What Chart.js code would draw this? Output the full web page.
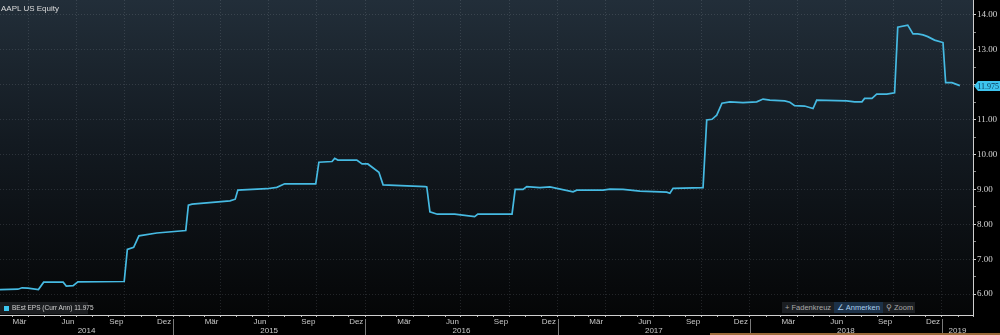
<!DOCTYPE html>
<html>
<head>
<meta charset="utf-8">
<script src="https://cdn.jsdelivr.net/npm/chart.js@4.4.0/dist/chart.umd.min.js"></script>
<style>
    html, body { margin: 0; padding: 0; background: #000; }
    #wrap { position: relative; width: 1000px; height: 335px; overflow: hidden; font-family: 'Liberation Sans', sans-serif; }
    #eps { position: absolute; left: 0; top: 0; }
    .title { position: absolute; left: 1px; top: 4px; font-size: 8px; color: #dcdcdc; }
    .legend { position: absolute; left: 0; top: 302px; width: 88px; height: 12px; background: #1b1d20; font-size: 6.5px; color: #d0d0d0; line-height: 12px; white-space: nowrap; }
    .legend .sw { display: inline-block; width: 5px; height: 5px; background: #3cc6f0; margin: 0 3px 0 4px; vertical-align: -0.5px; }
    .tools { position: absolute; left: 782px; top: 302px; width: 133px; height: 11px; background: #1b1e22; font-size: 7.5px; color: #a8a8a8; line-height: 11px; white-space: nowrap; }
    .tools span { display: inline-block; padding: 0 3px; }
    .tools .on { background: #1c3148; color: #a9cdee; }
    .strip { position: absolute; left: 710px; top: 333px; width: 290px; height: 2px; background: #9a6a3a; }
</style>
</head>
<body>
<div id="wrap">
    <canvas id="eps" width="1000" height="335"></canvas>
    <div class="title">AAPL US Equity</div>
    <div class="legend"><span class="sw"></span>BEst EPS (Curr Ann) 11.975</div>
    <div class="tools"><span>+ Fadenkreuz</span><span class="on">∠ Anmerken</span><span>⚲ Zoom</span></div>
    <div class="strip"></div>
</div>
<script>
const epsDates = [
    '2014-02-06', '2014-03-12', '2014-03-20', '2014-03-31', '2014-04-20', '2014-04-30', '2014-06-06', '2014-06-12',
    '2014-06-25', '2014-07-04', '2014-09-30', '2014-10-06', '2014-10-18', '2014-10-28', '2014-12-01', '2015-01-25',
    '2015-01-30', '2015-02-06', '2015-04-19', '2015-04-29', '2015-05-04', '2015-06-28', '2015-07-17', '2015-08-01',
    '2015-09-29', '2015-10-05', '2015-10-30', '2015-11-04', '2015-11-10', '2015-12-16', '2015-12-26', '2016-01-06',
    '2016-01-27', '2016-02-04', '2016-04-24', '2016-04-27', '2016-05-03', '2016-05-17', '2016-06-19', '2016-07-27',
    '2016-08-02', '2016-10-06', '2016-10-12', '2016-10-27', '2016-11-03', '2016-11-28', '2016-12-17', '2017-01-30',
    '2017-02-06', '2017-03-28', '2017-04-10', '2017-05-05', '2017-06-06', '2017-07-27', '2017-08-02', '2017-08-08',
    '2017-10-04', '2017-10-11', '2017-10-21', '2017-10-30', '2017-11-09', '2017-11-24', '2017-12-19', '2018-01-14',
    '2018-01-26', '2018-02-08', '2018-03-08', '2018-03-18', '2018-03-27', '2018-04-15', '2018-05-01', '2018-05-08',
    '2018-07-04', '2018-07-19', '2018-08-02', '2018-08-07', '2018-08-21', '2018-08-30', '2018-09-18', '2018-10-03',
    '2018-10-09', '2018-10-28', '2018-11-07', '2018-11-16', '2018-11-26', '2018-12-05', '2018-12-18', '2019-01-03',
    '2019-01-08', '2019-01-20', '2019-02-04'
];
const epsValues = [
    6.13, 6.14, 6.18, 6.17, 6.13, 6.34, 6.34, 6.23,
    6.24, 6.35, 6.36, 7.28, 7.34, 7.67, 7.75, 7.82,
    8.55, 8.58, 8.67, 8.72, 8.98, 9.02, 9.06, 9.16,
    9.16, 9.78, 9.80, 9.89, 9.84, 9.84, 9.73, 9.73,
    9.49, 9.13, 9.08, 9.07, 8.36, 8.29, 8.29, 8.22,
    8.29, 8.29, 9.00, 9.00, 9.08, 9.05, 9.07, 8.93,
    8.98, 8.98, 9.01, 9.00, 8.95, 8.92, 8.89, 9.03,
    9.05, 10.99, 11.01, 11.13, 11.47, 11.51, 11.49, 11.51,
    11.59, 11.56, 11.54, 11.50, 11.40, 11.39, 11.32, 11.56,
    11.54, 11.51, 11.51, 11.61, 11.61, 11.73, 11.73, 11.77,
    13.65, 13.71, 13.46, 13.46, 13.43, 13.38, 13.28, 13.21,
    12.06, 12.06, 11.975
];
const lastValue = 11.975;

// Ejes
const axisStart = '2014-02-06';
const axisEnd = '2019-03-01';
const yTickValues = [6, 6.5, 7, 7.5, 8, 8.5, 9, 9.5, 10, 10.5, 11, 11.5, 12, 12.5, 13, 13.5, 14];
const monthNames = ['Jan', 'Feb', 'Mär', 'Apr', 'Mai', 'Jun', 'Jul', 'Aug', 'Sep', 'Okt', 'Nov', 'Dez'];
const labelMonths = [2, 5, 8, 11]; // Mär, Jun, Sep, Dez
const years = [2014, 2015, 2016, 2017, 2018, 2019];

// Convertir fecha a número de días
const toDay = s => Date.UTC(+s.slice(0, 4), +s.slice(5, 7) - 1, +s.slice(8, 10)) / 864e5;
const ymd = (y, m, d) => Date.UTC(y, m, d) / 864e5;

const xMin = toDay(axisStart);
const xMax = toDay(axisEnd);

// Ticks del eje x: inicio de mes (marca), mitad de mes (etiqueta)
const xTickKind = new Map();
const xTickLabel = new Map();
years.forEach(y => {
    for (let m = 0; m < 12; m++) {
        const start = ymd(y, m, 1);
        if (start >= xMin && start <= xMax) xTickKind.set(start, m % 3 === 0 ? 'q' : 'm');
        const mid = ymd(y, m, 15);
        if (labelMonths.includes(m) && mid >= xMin && mid <= xMax) {
            xTickKind.set(mid, 'l');
            xTickLabel.set(mid, monthNames[m]);
        }
    }
});
const xTickValues = [...xTickKind.keys()].sort((a, b) => a - b);

// Ticks de años: centro de la parte visible de cada año
const yearTicks = years.map(y => {
    const a = Math.max(ymd(y, 0, 1), xMin);
    const b = Math.min(ymd(y + 1, 0, 1), xMax);
    return { value: (a + b) / 2, label: String(y) };
});

const points = epsDates.map((d, i) => ({ x: toDay(d), y: epsValues[i] }));

const gridCol = 'rgba(200,210,220,0.15)';

// Fondo degradado, separadores de años y etiqueta del último valor
const bloombergLook = {
    id: 'bloombergLook',
    beforeDraw(chart) {
        const { ctx, chartArea: a } = chart;
        const g = ctx.createLinearGradient(0, a.top, 0, a.bottom);
        g.addColorStop(0, '#222e39');
        g.addColorStop(0.45, '#131a21');
        g.addColorStop(1, '#050607');
        ctx.save();
        ctx.fillStyle = g;
        ctx.fillRect(a.left, a.top, a.right - a.left, a.bottom - a.top);
        ctx.restore();
    },
    afterDraw(chart) {
        const { ctx, chartArea: a } = chart;
        const xs = chart.scales.x;
        ctx.save();
        ctx.strokeStyle = '#7a7a7a';
        ctx.lineWidth = 1;
        years.forEach(y => {
            const v = ymd(y, 0, 1);
            if (v <= xMin || v >= xMax) return;
            const px = Math.round(xs.getPixelForValue(v)) + 0.5;
            ctx.beginPath();
            ctx.moveTo(px, a.bottom + 4);
            ctx.lineTo(px, chart.height);
            ctx.stroke();
        });
        // Etiqueta del valor actual
        const py = Math.round(chart.scales.y.getPixelForValue(lastValue));
        const x0 = a.right + 1;
        ctx.fillStyle = '#3dc4ee';
        ctx.beginPath();
        ctx.moveTo(x0, py);
        ctx.lineTo(x0 + 4, py - 5);
        ctx.lineTo(chart.width, py - 5);
        ctx.lineTo(chart.width, py + 5);
        ctx.lineTo(x0 + 4, py + 5);
        ctx.closePath();
        ctx.fill();
        ctx.fillStyle = '#083552';
        ctx.font = '8px "Liberation Serif"';
        ctx.textBaseline = 'middle';
        ctx.textAlign = 'right';
        ctx.fillText(lastValue.toFixed(3), chart.width - 1, py + 0.5);
        ctx.restore();
    }
};

new Chart(document.getElementById('eps'), {
    type: 'line',
    data: {
        datasets: [{
            label: 'BEst EPS (Curr Ann)',
            data: points,
            borderColor: '#46bae2',
            borderWidth: 1.7,
            pointRadius: 0,
            tension: 0,
            fill: false
        }]
    },
    options: {
        responsive: false,
        animation: false,
        devicePixelRatio: 1,
        layout: { padding: 0 },
        plugins: { legend: { display: false }, tooltip: { enabled: false } },
        scales: {
            x: {
                type: 'linear',
                position: 'bottom',
                weight: 0,
                min: xMin,
                max: xMax,
                afterBuildTicks: s => { s.ticks = xTickValues.map(v => ({ value: v })); },
                afterFit: s => { s.height = 11; s.paddingLeft = 0; s.paddingRight = 0; },
                ticks: {
                    autoSkip: false,
                    maxRotation: 0,
                    padding: 0,
                    color: '#c8c8c8',
                    font: { family: 'Liberation Sans', size: 8 },
                    callback: v => xTickLabel.get(v) || ''
                },
                grid: {
                    color: c => (c.tick && xTickKind.get(c.tick.value) === 'q') ? gridCol : 'transparent',
                    tickColor: c => (c.tick && xTickKind.get(c.tick.value) !== 'l') ? '#bdbdbd' : 'transparent',
                    tickLength: 2,
                    lineWidth: 1
                },
                border: { display: true, color: '#cfcfcf', width: 1, dash: [1, 2] }
            },
            xYear: {
                type: 'linear',
                position: 'bottom',
                weight: 1,
                min: xMin,
                max: xMax,
                afterBuildTicks: s => { s.ticks = yearTicks.map(t => ({ value: t.value })); },
                afterFit: s => { s.height = 9; s.paddingLeft = 0; s.paddingRight = 0; },
                ticks: {
                    autoSkip: false,
                    maxRotation: 0,
                    padding: 0,
                    color: '#c8c8c8',
                    font: { family: 'Liberation Sans', size: 8 },
                    callback: (v, i) => yearTicks[i].label
                },
                grid: { display: false, drawTicks: false },
                border: { display: false }
            },
            y: {
                type: 'linear',
                position: 'right',
                min: 5.40,
                max: 14.43,
                afterBuildTicks: s => { s.ticks = yTickValues.map(v => ({ value: v })); },
                afterFit: s => { s.width = 27; s.paddingTop = 0; s.paddingBottom = 0; },
                ticks: {
                    padding: 1,
                    color: '#d6d6d6',
                    font: { family: 'Liberation Serif', size: 9 },
                    callback: v => Number.isInteger(v) ? v.toFixed(2) : ''
                },
                grid: {
                    color: c => (c.tick && Number.isInteger(c.tick.value)) ? gridCol : 'transparent',
                    tickColor: c => (c.tick && Number.isInteger(c.tick.value)) ? '#cfcfcf' : '#8a8a8a',
                    tickLength: 3,
                    lineWidth: 1
                },
                border: { display: true, color: '#cfcfcf', width: 1, dash: [1, 2] }
            }
        }
    },
    plugins: [bloombergLook]
});
</script>
</body>
</html>
